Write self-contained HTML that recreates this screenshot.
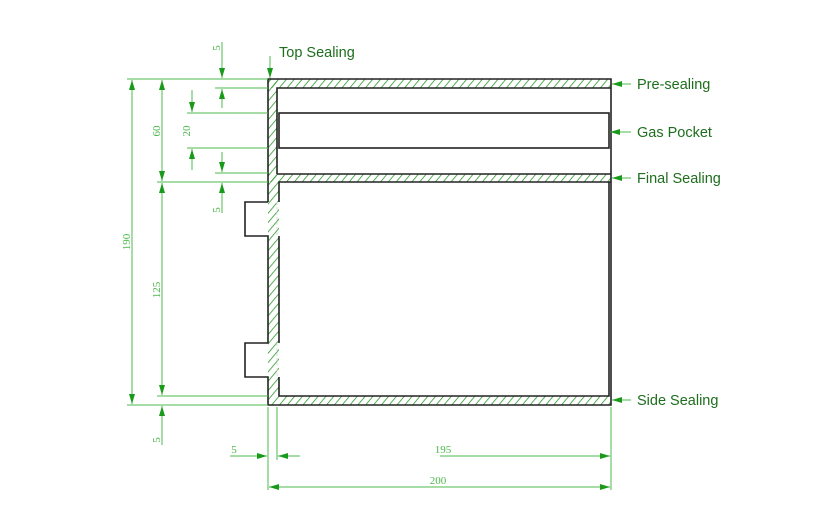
<!DOCTYPE html>
<html><head><style>body{margin:0;background:#fff}svg{display:block}</style></head><body>
<svg width="835" height="516" viewBox="0 0 835 516" xmlns="http://www.w3.org/2000/svg">
<defs>
<pattern id="h" width="6" height="6" patternUnits="userSpaceOnUse" patternTransform="rotate(40)">
<line x1="0" y1="0" x2="0" y2="6" stroke="#2a9a2a" stroke-width="1.6"/>
</pattern>
<marker id="a" markerWidth="10" markerHeight="6" refX="10" refY="3" orient="auto" markerUnits="userSpaceOnUse"><path d="M0,0 L10,3 L0,6z" fill="#1a9a1a"/></marker>
</defs>
<g fill="url(#h)">
<rect x="268" y="79" width="343" height="9"/>
<rect x="268" y="174" width="343" height="8"/>
<rect x="268" y="396" width="343" height="9"/>
<rect x="268" y="79" width="9" height="103"/>
<rect x="268" y="182" width="11" height="214"/>
</g>
<g fill="none" stroke="#222" stroke-width="1.6">
<path d="M268,202 V79 H611 V405 H268 V377 H245 V343 H268 V236 H245 V202 H268"/>
<path d="M277,174 V88 H611"/>
<path d="M277,174 H611"/>
<path d="M611,182 H279 V202 M279,236 V343 M279,377 V396 H609 V182"/>
<rect x="279" y="113" width="330" height="35"/>
</g>
<g stroke="#ddd" stroke-width="1" stroke-dasharray="3,2"><line x1="277" y1="202" x2="277" y2="236"/><line x1="277" y1="343" x2="277" y2="377"/></g>
<g stroke="#4cb84c" stroke-width="1" fill="none">
<line x1="127" y1="79" x2="268" y2="79"/>
<line x1="215" y1="88" x2="268" y2="88"/>
<line x1="187" y1="113" x2="268" y2="113"/>
<line x1="187" y1="148" x2="268" y2="148"/>
<line x1="215" y1="173" x2="268" y2="173"/>
<line x1="157" y1="182" x2="268" y2="182"/>
<line x1="157" y1="396" x2="268" y2="396"/>
<line x1="127" y1="405" x2="268" y2="405"/>
<line x1="268" y1="407" x2="268" y2="490"/>
<line x1="277" y1="407" x2="277" y2="460"/>
<line x1="611" y1="407" x2="611" y2="490"/>
</g>
<g stroke="#4cb84c" stroke-width="1" marker-end="url(#a)">
<line x1="132" y1="242" x2="132" y2="80"/><line x1="132" y1="242" x2="132" y2="404"/>
<line x1="162" y1="130" x2="162" y2="80"/><line x1="162" y1="130" x2="162" y2="181"/>
<line x1="162" y1="290" x2="162" y2="183"/><line x1="162" y1="290" x2="162" y2="395"/>
<line x1="162" y1="445" x2="162" y2="406"/>
<line x1="192" y1="90" x2="192" y2="112"/><line x1="192" y1="170" x2="192" y2="149"/>
<line x1="222" y1="42" x2="222" y2="78"/><line x1="222" y1="108" x2="222" y2="89"/>
<line x1="222" y1="152" x2="222" y2="172"/><line x1="222" y1="213" x2="222" y2="183"/>
<line x1="230" y1="456" x2="267" y2="456"/><line x1="300" y1="456" x2="278" y2="456"/>
<line x1="440" y1="456" x2="610" y2="456"/>
<line x1="440" y1="487" x2="269" y2="487"/><line x1="440" y1="487" x2="610" y2="487"/>
<line x1="270" y1="56" x2="270" y2="78"/>
<line x1="631" y1="84" x2="612" y2="84"/>
<line x1="631" y1="132" x2="610" y2="132"/>
<line x1="631" y1="178" x2="612" y2="178"/>
<line x1="631" y1="400" x2="612" y2="400"/>
</g>
<g fill="#4cb84c" font-family="Liberation Serif, serif" font-size="11" text-anchor="middle">
<text transform="translate(130,242) rotate(-90)">190</text>
<text transform="translate(160,131) rotate(-90)">60</text>
<text transform="translate(160,290) rotate(-90)">125</text>
<text transform="translate(160,440) rotate(-90)">5</text>
<text transform="translate(190,131) rotate(-90)">20</text>
<text transform="translate(220,48) rotate(-90)">5</text>
<text transform="translate(220,210) rotate(-90)">5</text>
<text x="234" y="453">5</text>
<text x="443" y="453">195</text>
<text x="438" y="484">200</text>
</g>
<g fill="#1e6e1e" font-family="Liberation Sans, sans-serif" font-size="14.5">
<text x="279" y="57">Top Sealing</text>
<text x="637" y="89">Pre-sealing</text>
<text x="637" y="137">Gas Pocket</text>
<text x="637" y="183">Final Sealing</text>
<text x="637" y="405">Side Sealing</text>
</g>
</svg>
</body></html>
